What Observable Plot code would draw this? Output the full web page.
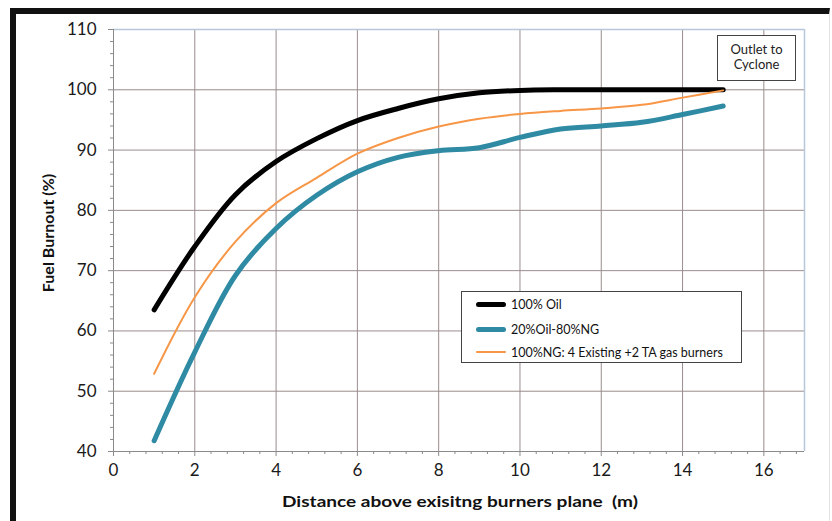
<!DOCTYPE html>
<html>
<head>
<meta charset="utf-8">
<script src="https://cdn.jsdelivr.net/npm/d3@7"></script>
<script src="https://cdn.jsdelivr.net/npm/@observablehq/plot@0.6"></script>
<style>
  html, body { margin: 0; padding: 0; background: #fff; }
  #wrap { position: relative; width: 832px; height: 521px; overflow: hidden; font-family: Lato, "Open Sans", sans-serif; }
  #frame { position: absolute; left: 10px; top: 8px; right: 2px; bottom: -10px;
           border-left: 6px solid #111; border-top: 6px solid #111; border-right: 1px solid #e2e2e2; box-sizing: border-box; pointer-events: none; }
  #chart { position: absolute; left: 0; top: 0; }
  .ytitle { position: absolute; left: 47px; top: 233px; transform: translate(-50%, -50%) rotate(-90deg);
            font-weight: bold; font-size: 16px; white-space: pre; color: #111; }
  .xtitle { position: absolute; left: 460px; top: 500px; transform: translate(-50%, -50%) scaleX(1.19);
            font-weight: bold; font-size: 16px; white-space: pre; color: #111; }
  .legend { position: absolute; left: 461px; top: 291px; width: 281px; height: 72px; box-sizing: border-box;
            border: 1.5px solid #444; background: #fff; font-size: 12.5px; color: #111; }
  .legend .row { position: absolute; left: 14px; display: flex; align-items: center; height: 14px; }
  .legend .sw { width: 30px; margin-right: 5px; border-radius: 3px; }
  .outlet { position: absolute; left: 717px; top: 35px; width: 79px; height: 46px; box-sizing: border-box;
            border: 1px solid #444; background: #fff; font-size: 13px; color: #222; text-align: center;
            line-height: 15px; padding-top: 6px; }
</style>
</head>
<body>
<div id="wrap">
  <div id="chart"></div>
  <div id="frame"></div>
</div>
<script>
// ---- data ----
const distance = [1, 2, 3, 4, 5, 6, 7, 8, 9, 10, 11, 12, 13, 14, 15];
const oil100   = [63.5, 74.0, 82.6, 88.1, 91.9, 94.9, 96.9, 98.5, 99.5, 99.9, 100, 100, 100, 100, 100];
const oil20ng80 = [41.8, 56.5, 69.2, 77.0, 82.5, 86.4, 88.8, 89.9, 90.4, 92.1, 93.5, 94.0, 94.6, 95.9, 97.3];
const ng100    = [52.9, 65.6, 74.8, 81.2, 85.4, 89.4, 92.0, 93.9, 95.2, 96.0, 96.5, 96.9, 97.5, 98.7, 99.9];

const seriesNames = ["100% Oil", "20%Oil-80%NG", "100%NG: 4 Existing +2 TA gas burners"];
const seriesColors = ["#000000", "#2f8aa3", "#f79646"];
const seriesWidths = [5, 5, 2];

const xMajor = [0, 2, 4, 6, 8, 10, 12, 14, 16];
const xMinor = d3.range(0, 17.01, 0.4).filter(v => Math.abs(v / 2 - Math.round(v / 2)) > 1e-6);
const yMajor = [40, 50, 60, 70, 80, 90, 100, 110];
const yMinor = d3.range(40, 110.01, 2).filter(v => v % 10 !== 0);
const xGrid = [2, 4, 6, 8, 10, 12, 14, 16];
const yGrid = [50, 60, 70, 80, 90, 100];

const seriesValues = [oil100, oil20ng80, ng100];
const rows = [];
seriesValues.forEach((vals, s) => vals.forEach((v, i) => rows.push({series: seriesNames[s], x: distance[i], y: v})));

const gridColor = "#9a8c8c";
const axisColor = "#8a8a8a";
const frameColor = "#b7c8da";

const chart = Plot.plot({
  width: 832,
  height: 521,
  marginLeft: 113,
  marginRight: 28,
  marginTop: 29,
  marginBottom: 70,
  style: {fontFamily: "Lato, 'Open Sans', sans-serif", fontSize: "17px", color: "#1a1a1a", background: "transparent"},
  x: {domain: [0, 17]},
  y: {domain: [40, 110]},
  marks: [
    Plot.gridX(xGrid, {stroke: gridColor, strokeOpacity: 1}),
    Plot.gridY(yGrid, {stroke: gridColor, strokeOpacity: 1}),
    Plot.ruleY([110], {stroke: frameColor, strokeWidth: 1.5}),
    Plot.ruleX([17], {stroke: frameColor, strokeWidth: 1.5}),
    Plot.ruleX([0], {stroke: axisColor}),
    Plot.ruleY([40], {stroke: axisColor}),
    Plot.axisX(xMajor, {tickSize: 5, tickPadding: 7, stroke: axisColor, fill: "#1a1a1a", label: null, fontSize: 17}),
    Plot.axisX(xMinor, {tickSize: 3, tickFormat: () => "", stroke: axisColor, label: null}),
    Plot.axisY(yMajor, {tickSize: 5, tickPadding: 12, stroke: axisColor, fill: "#1a1a1a", label: null, fontSize: 17}),
    Plot.axisY(yMinor, {tickSize: 3, tickFormat: () => "", stroke: axisColor, label: null}),
    ...seriesNames.map((name, s) => Plot.line(rows.filter(d => d.series === name), {
      x: "x", y: "y", stroke: seriesColors[s], strokeWidth: seriesWidths[s], curve: "catmull-rom",
      strokeLinecap: "round", strokeLinejoin: "round"
    }))
  ]
});
document.getElementById("chart").appendChild(chart);

const wrap = document.getElementById("wrap");
const yt = document.createElement("div"); yt.className = "ytitle"; yt.textContent = "Fuel Burnout (%)"; wrap.appendChild(yt);
const xt = document.createElement("div"); xt.className = "xtitle"; xt.textContent = "Distance above exisitng burners plane  (m)"; wrap.appendChild(xt);

const lg = document.createElement("div"); lg.className = "legend";
const rowTops = [5, 30, 53];
seriesNames.forEach((name, s) => {
  const r = document.createElement("div"); r.className = "row"; r.style.top = rowTops[s] + "px";
  const sw = document.createElement("div"); sw.className = "sw";
  sw.style.height = seriesWidths[s] + "px"; sw.style.background = seriesColors[s];
  const t = document.createElement("span"); t.textContent = name;
  r.appendChild(sw); r.appendChild(t); lg.appendChild(r);
});
wrap.appendChild(lg);

const ob = document.createElement("div"); ob.className = "outlet";
ob.innerHTML = "Outlet to<br>Cyclone";
wrap.appendChild(ob);
</script>
</body>
</html>
